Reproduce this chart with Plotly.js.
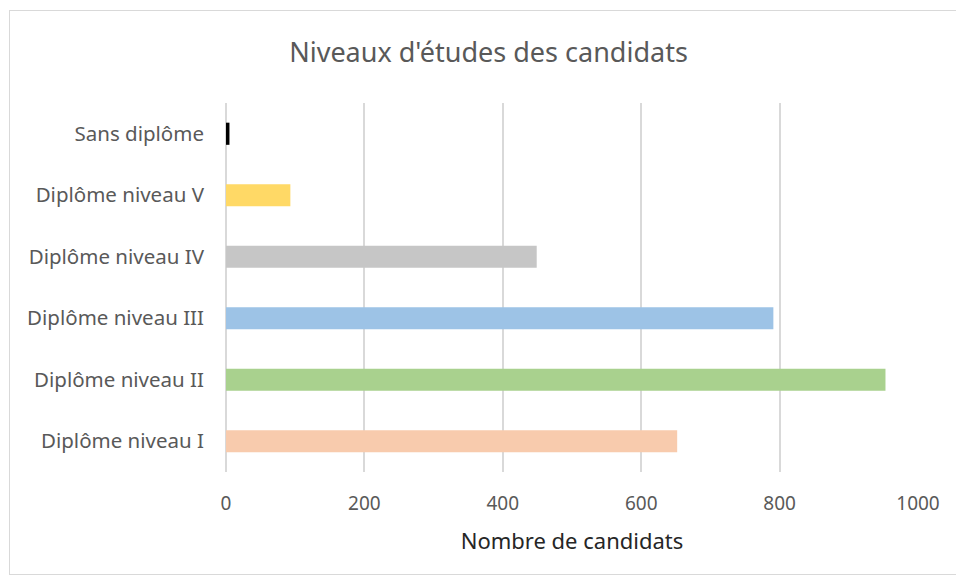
<!DOCTYPE html>
<html>
<head>
<meta charset="utf-8">
<script src="https://cdn.plot.ly/plotly-3.0.1.min.js"></script>
<style>
  html, body { margin: 0; padding: 0; background: #fff; }
  #wrap { position: relative; width: 956px; height: 580px; }
  #chart { width: 956px; height: 580px; }
  #frame { position: absolute; left: 9px; top: 10px; width: 950px; height: 565px;
           border: 1px solid #d9d9d9; pointer-events: none; box-sizing: border-box; }
</style>
</head>
<body>
<div id="wrap">
  <div id="chart"></div>
  <div id="frame"></div>
</div>
<script>
const categories = ["Diplôme niveau I", "Diplôme niveau II", "Diplôme niveau III", "Diplôme niveau IV", "Diplôme niveau V", "Sans diplôme"];
const values = [652, 953, 791, 449, 93, 5];
const barColors = ["#F8CBAD", "#A9D18E", "#9DC3E6", "#C6C6C6", "#FFD966", "#000000"];
const xTicks = [0, 200, 400, 600, 800, 1000];

const font = "Noto Sans, Open Sans, sans-serif";

Plotly.newPlot("chart", [{
  type: "bar",
  orientation: "h",
  y: categories,
  x: values,
  width: 0.36,
  marker: { color: barColors },
  hoverinfo: "x+y"
}], {
  width: 956, height: 580,
  margin: { l: 226, r: 38, t: 103, b: 108 },
  paper_bgcolor: "#fff", plot_bgcolor: "#fff",
  showlegend: false,
  title: { text: "Niveaux d'études des candidats", x: 0.511, xanchor: "center", y: 0.91, yanchor: "middle",
           font: { family: font, size: 27, color: "#595959" } },
  xaxis: {
    range: [0, 1000],
    tickvals: xTicks,
    ticktext: xTicks.map(String),
    showgrid: true, gridcolor: "#d9d9d9", gridwidth: 2,
    zeroline: true, zerolinecolor: "#d9d9d9", zerolinewidth: 2,
    showline: false,
    ticks: "", ticklabelstandoff: 18,
    tickfont: { family: font, size: 19, color: "#595959" },
    title: { text: "Nombre de candidats", standoff: 18, font: { family: font, size: 22, color: "#262626" } },
    fixedrange: true
  },
  yaxis: {
    showgrid: false, zeroline: false, showline: false,
    ticks: "", ticklabelstandoff: 21,
    tickfont: { family: font, size: 20.5, color: "#595959" },
    fixedrange: true
  }
}, { displayModeBar: false, staticPlot: true });
</script>
</body>
</html>
